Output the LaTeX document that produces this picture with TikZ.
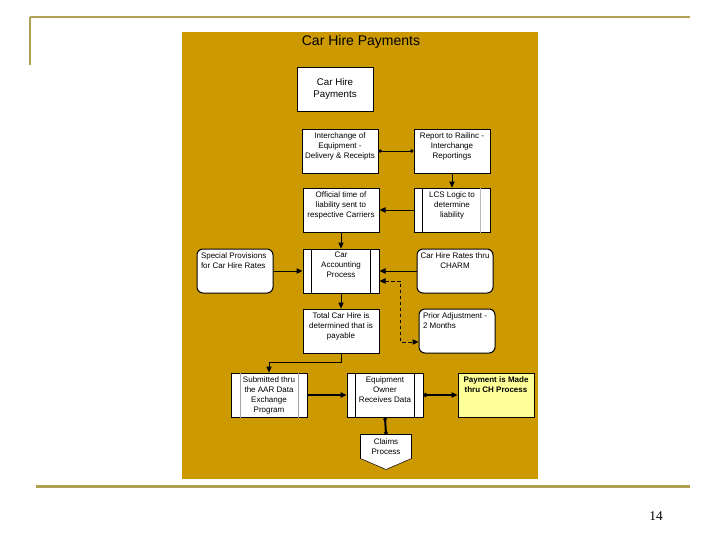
\documentclass[tikz,border=0pt]{standalone}
\usepackage{fontspec}
\setmainfont{Liberation Sans}
\newfontfamily\pagenumfont{Liberation Serif}
\usetikzlibrary{arrows.meta,backgrounds}

\definecolor{panelgold}{RGB}{204,153,0}
\definecolor{framegold}{RGB}{178,160,82}
\definecolor{noteyellow}{RGB}{255,255,153}

\newcommand{\boxtext}[2][\centering]{\parbox[c][28pt][t]{55pt}{#1#2}}

\tikzset{every picture/.style={line width=0.75pt}}
\tikzset{
	procbox/.style={draw, fill=white, inner xsep=1pt, inner ysep=2.5pt, minimum width=57pt, minimum height=33pt, font=\fontsize{6}{7.5}\selectfont},
	roundbox/.style={procbox, rounded corners=4.5pt},
	arrowline/.style={-{Triangle[length=4.5pt,width=4pt]}},
	dotline/.style={{Circle[length=2.6pt]}-{Circle[length=2.6pt]}},
	dashline/.style={{Triangle[length=4.5pt,width=4pt]}-{Triangle[length=4.5pt,width=4pt]}, dash pattern=on 2.5pt off 2pt},
	heavyline/.style={line width=1.5pt}
}

\begin{document}
\begin{tikzpicture}[x=0.75pt,y=0.75pt,yscale=-1,xscale=1]
	\useasboundingbox (0,0) rectangle (720,540);

	%Straight Lines [slide frame]
	\draw [framegold, line width=1.5pt]  (30,17) -- (690,17) ;
	\draw [framegold, line width=1.5pt]  (30,17) -- (30,65) ;
	\draw [framegold, line width=2.25pt]  (36,486) -- (690,486) ;

	%Shape: Rectangle [panel]
	\begin{scope}[on background layer]
	\fill [panelgold] (182,32) rectangle (538,479) ;
	\end{scope}

	% Text Node
	\node [font=\fontsize{10.5}{12}\selectfont] (title) at (361,42) {Car Hire Payments};

	%Shape: Rectangle [start]
	\node [procbox, align=center, font=\fontsize{7.3}{9}\selectfont] (chp) at (335,89) {Car Hire\\Payments};

	%Shape: Rectangle [row 1]
	\node [procbox] (ieq) at (340,151) {\boxtext{Interchange of\\Equipment -\\Delivery \& Receipts}};
	\node [procbox] (rpt) at (452,151) {\boxtext{Report to Railinc -\\Interchange\\Reportings}};

	%Shape: Rectangle [row 2]
	\node [procbox] (oft) at (341,210) {\boxtext{Official time of\\liability sent to\\respective Carriers}};
	\node [procbox] (lcs) at (452,210) {\boxtext{LCS Logic to\\determine\\liability}};
	\draw ([xshift=6.75pt]lcs.north west) -- ([xshift=6.75pt]lcs.south west) ;
	\draw [gray!55] ([xshift=-7.5pt]lcs.north east) -- ([xshift=-7.5pt]lcs.south east) ;

	%Shape: Rectangle [row 3]
	\node [roundbox] (spr) at (235,271) {\boxtext[\raggedright\leftskip=2pt\relax]{Special Provisions\\for Car Hire Rates}};
	\node [procbox] (cap) at (341,271) {\boxtext{Car\\Accounting\\Process}};
	\node [roundbox] (chr) at (455,271) {\boxtext{Car Hire Rates thru\\CHARM}};

	%Shape: Rectangle [row 4]
	\node [procbox] (tch) at (341,331) {\boxtext{Total Car Hire is\\determined that is\\payable}};
	\node [roundbox] (pad) at (457,331) {\boxtext[\raggedright\leftskip=2pt\relax]{Prior Adjustment -\\2 Months}};

	%Shape: Rectangle [row 5]
	\node [procbox] (sub) at (269,395) {\boxtext{Submitted thru\\the AAR Data\\Exchange\\Program}};
	\node [procbox] (eo) at (385,395) {\boxtext{Equipment\\Owner\\Receives Data}};
	\node [procbox, fill=noteyellow, font=\fontsize{6}{7.5}\selectfont\bfseries] (pay) at (496,395) {\boxtext{Payment is Made\\thru CH Process}};
	\draw [gray!70] ([xshift=7.5pt]sub.north west) -- ([xshift=7.5pt]sub.south west) ;
	\draw [gray!70] ([xshift=-6.75pt]sub.north east) -- ([xshift=-6.75pt]sub.south east) ;
	\foreach \b in {cap,eo} {
		\draw ([xshift=6.75pt]\b.north west) -- ([xshift=6.75pt]\b.south west) ;
		\draw ([xshift=-6.75pt]\b.north east) -- ([xshift=-6.75pt]\b.south east) ;
	}

	%Shape: Off-page connector
	\node [inner sep=0pt, minimum width=37.5pt, minimum height=17.25pt, align=center, font=\fontsize{6}{7}\selectfont] (clm) at (386,446.5) {Claims\\Process};
	\begin{scope}[on background layer]
	\draw [fill=white] (clm.north west) -- (clm.north east) -- (clm.south east) -- ([yshift=8.25pt]clm.south) -- (clm.south west) -- cycle ;
	\end{scope}

	%Straight Lines
	\draw [dotline] (ieq.east) -- (rpt.west) ;
	\draw [arrowline] (rpt.south) -- (lcs.north) ;
	\draw [arrowline] (lcs.west) -- (oft.east) ;
	\draw [arrowline] (oft.south) -- (cap.north) ;
	\draw [arrowline] (spr.east) -- (cap.west) ;
	\draw [arrowline] (chr.west) -- (cap.east) ;
	\draw [dashline] ([yshift=7.5pt]cap.east) -- ++(21,0) |- ([yshift=8.25pt]pad.west) ;
	\draw [arrowline] (cap.south) -- (tch.north) ;
	\draw [arrowline] (tch.south) -- ++(0,9) -| (sub.north) ;
	\draw [arrowline, heavyline] (sub.east) -- (eo.west) ;
	\draw [heavyline, {Circle[length=3pt]}-{Triangle[length=4.5pt,width=4pt]}] (eo.east) -- (pay.west) ;
	\draw [heavyline, dotline] (eo.south) -- (clm.north) ;

	% Text Node
	\node [font=\pagenumfont\fontsize{10}{12}\selectfont] (pnum) at (656,516) {14};

\end{tikzpicture}
\end{document}
